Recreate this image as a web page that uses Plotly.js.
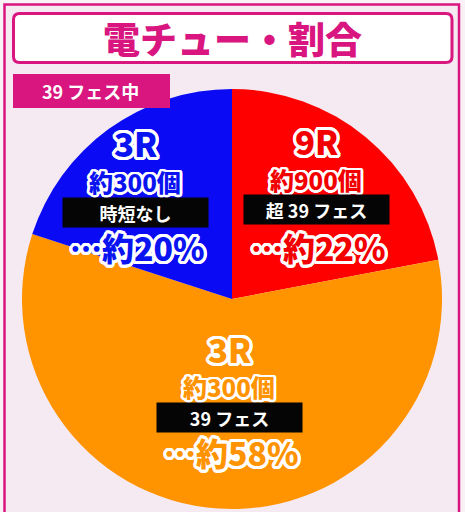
<!DOCTYPE html>
<html>
<head>
<meta charset="utf-8">
<script src="https://cdn.plot.ly/plotly-3.0.1.min.js"></script>
<style>html,body{margin:0;padding:0;background:#F8F1F6;}#chart{width:465px;height:512px;}</style>
</head>
<body>
<div id="chart"></div>
<script>
// ---- data ----
const chartTitle = '電チュー・割合';
const modeTag = '39 フェス中';
const rounds = ['9R', '3R', '3R'];
const payouts = [900, 300, 300];
const modes = ['超 39 フェス', '39 フェス', '時短なし'];
const shares = [22, 58, 20];

// ---- style ----
const W = 465, H = 512;
const sliceColors = ['#FF0000', '#FF9300', '#0A0AF5'];
const textColors = ['#F20000', '#FF9300', '#0A14F0'];
const magenta = '#D9157F';
const FONT = '"Noto Sans CJK JP", "Noto Sans", sans-serif';
// label anchor positions (pixels) for each slice: [x, roundY, payY, boxY, pctY]
const labelPos = [
  [316, 141, 179, 209, 247],
  [229, 349, 386, 417, 452],
  [135, 143, 181, 212, 247]
];

const px = x => x / W;
const py = y => 1 - y / H;

function outline(c, r) {
  const s = [];
  for (let i = 0; i < 24; i++) {
    const a = i / 24 * 2 * Math.PI;
    s.push(`${(r * Math.cos(a)).toFixed(2)}px ${(r * Math.sin(a)).toFixed(2)}px 0 ${c}`);
  }
  return s.join(', ');
}

const annotations = [];
function ann(text, x, y, font, extra) {
  annotations.push(Object.assign({
    text: text, x: px(x), y: py(y), xref: 'paper', yref: 'paper',
    xanchor: 'center', yanchor: 'middle', showarrow: false, font: font
  }, extra || {}));
}

ann(chartTitle, 232, 38, {family: FONT, size: 37, color: magenta, weight: 900});
ann(modeTag, 90, 91, {family: FONT, size: 18, color: '#FFFFFF', weight: 700});

for (let i = 0; i < shares.length; i++) {
  const [x, yR, yP, yB, yPct] = labelPos[i];
  const col = textColors[i];
  ann(rounds[i], x, yR, {family: FONT, size: 33, color: col, weight: 900, shadow: outline('#FFFFFF', 3)},
      {borderpad: 0});
  ann('約' + payouts[i] + '個', x, yP, {family: FONT, size: 24, color: col, weight: 900, shadow: outline('#FFFFFF', 2.5)},
      {borderpad: 0});
  ann(modes[i], x, yB, {family: FONT, size: 18, color: '#FFFFFF', weight: 700},
      {bgcolor: '#050505', width: 141, height: 25, borderpad: 2});
  ann('…約' + shares[i] + '%', x + 2, yPct, {family: FONT, size: 32, color: col, weight: 900, shadow: outline('#FFFFFF', 3)},
      {borderpad: 0});
}

function roundRect(x0, y0, x1, y1, r) {
  const X = px, Y = py;
  return `M${X(x0 + r)},${Y(y0)} L${X(x1 - r)},${Y(y0)} Q${X(x1)},${Y(y0)} ${X(x1)},${Y(y0 + r)} ` +
         `L${X(x1)},${Y(y1 - r)} Q${X(x1)},${Y(y1)} ${X(x1 - r)},${Y(y1)} ` +
         `L${X(x0 + r)},${Y(y1)} Q${X(x0)},${Y(y1)} ${X(x0)},${Y(y1 - r)} ` +
         `L${X(x0)},${Y(y0 + r)} Q${X(x0)},${Y(y0)} ${X(x0 + r)},${Y(y0)} Z`;
}

const shapes = [
  {type: 'rect', xref: 'paper', yref: 'paper', layer: 'below',
   x0: px(4.5), x1: px(459), y0: py(530), y1: py(4.5),
   fillcolor: '#F5EAF2', line: {color: magenta, width: 2.5}},
  {type: 'path', xref: 'paper', yref: 'paper', layer: 'below',
   path: roundRect(13.5, 13.5, 452, 62.5, 6),
   fillcolor: '#FFFFFF', line: {color: magenta, width: 3}},
  {type: 'rect', xref: 'paper', yref: 'paper', layer: 'above',
   x0: px(13), x1: px(170), y0: py(108), y1: py(74),
   fillcolor: magenta, line: {width: 0}}
];

const trace = {
  type: 'pie',
  labels: rounds.map((r, i) => r + ' ' + modes[i]),
  values: shares,
  sort: false,
  direction: 'clockwise',
  rotation: 0,
  textinfo: 'none',
  hoverinfo: 'none',
  marker: {colors: sliceColors, line: {width: 0}},
  domain: {x: [px(22), px(442)], y: [py(509), py(89)]},
  showlegend: false
};

const layout = {
  width: W, height: H,
  margin: {l: 0, r: 0, t: 0, b: 0},
  paper_bgcolor: '#F8F1F6',
  showlegend: false,
  shapes: shapes,
  annotations: annotations
};

Plotly.newPlot('chart', [trace], layout, {displayModeBar: false, staticPlot: true});
</script>
</body>
</html>
